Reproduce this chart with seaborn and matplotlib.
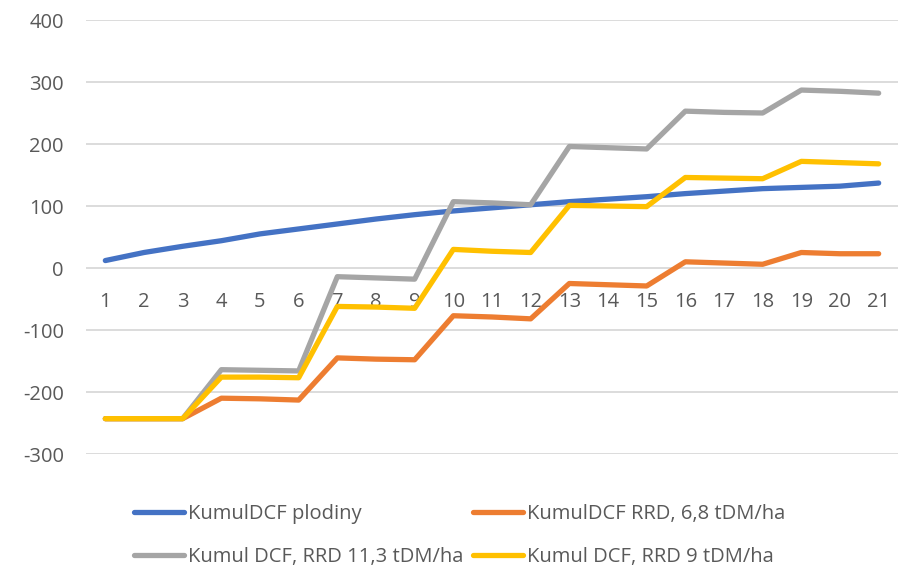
import matplotlib
matplotlib.use("Agg")
import matplotlib.pyplot as plt
import seaborn as sns
import pandas as pd

years = list(range(1, 22))

kumul_plodiny = [12, 25, 35, 44, 55, 63, 71, 79, 86, 92, 97, 102,
                 107, 111, 115, 120, 124, 128, 130, 132, 137]
kumul_rrd_68 = [-243, -243, -243, -210, -211, -213, -145, -147, -148, -77, -79, -82,
                -25, -27, -29, 10, 8, 6, 25, 23, 23]
kumul_rrd_113 = [-243, -243, -243, -164, -165, -166, -14, -16, -18, 107, 105, 102,
                 196, 194, 192, 253, 251, 250, 287, 285, 282]
kumul_rrd_9 = [-243, -243, -243, -176, -176, -177, -62, -63, -65, 30, 27, 25,
               101, 100, 99, 146, 145, 144, 172, 170, 168]

series_names = [
    "KumulDCF plodiny",
    "KumulDCF RRD, 6,8 tDM/ha",
    "Kumul DCF, RRD 11,3 tDM/ha",
    "Kumul DCF, RRD 9 tDM/ha",
]
series_values = [kumul_plodiny, kumul_rrd_68, kumul_rrd_113, kumul_rrd_9]
colors = ["#4472C4", "#ED7D31", "#A5A5A5", "#FFC000"]

y_ticks = [-300, -200, -100, 0, 100, 200, 300, 400]

frames = []
for name, vals in zip(series_names, series_values):
    frames.append(pd.DataFrame({"rok": years, "hodnota": vals, "serie": name}))
df = pd.concat(frames, ignore_index=True)

sns.set_theme(style="white")
plt.rcParams["font.family"] = ["Open Sans", "DejaVu Sans"]
plt.rcParams["axes.unicode_minus"] = False

fig = plt.figure(figsize=(9.09, 5.67), dpi=100)
ax = fig.add_axes([86 / 909, 1 - 454 / 567, (898 - 86) / 909, (454 - 20) / 567])

sns.lineplot(data=df, x="rok", y="hodnota", hue="serie", hue_order=series_names,
             palette=colors, linewidth=3.8, legend=False, ax=ax, sort=False,
             solid_capstyle="round", solid_joinstyle="round")

ax.set_xlim(0.5, 21.5)
ax.set_ylim(-300, 400)
ax.set_yticks(y_ticks)
ax.set_xticks(years)
ax.set_xticklabels([str(y) for y in years])
ax.grid(axis="y", color="#D9D9D9", linewidth=1.3)
ax.set_axisbelow(True)
for side in ["top", "right", "left"]:
    ax.spines[side].set_visible(False)
ax.spines["bottom"].set_position(("data", 0))
ax.spines["bottom"].set_visible(False)
ax.tick_params(axis="x", length=0, pad=17, labelsize=14.5, labelcolor="#595959")
ax.tick_params(axis="y", length=0, pad=16, labelsize=14.5, labelcolor="#595959")
ax.set_xlabel("")
ax.set_ylabel("")

# legend fills column by column, so order the entries to read row by row
lines = ax.get_lines()[:4]
order = [0, 2, 1, 3]
leg = fig.legend([lines[i] for i in order], [series_names[i] for i in order],
                 loc="upper left", bbox_to_anchor=(120 / 909, 1 - 490 / 567),
                 ncol=2, frameon=False, fontsize=14.5, handlelength=2.5,
                 handletextpad=0.2, columnspacing=0.45, labelspacing=1.15,
                 borderpad=0.2)
for t in leg.get_texts():
    t.set_color("#595959")

fig.savefig("out.png", dpi=100)
